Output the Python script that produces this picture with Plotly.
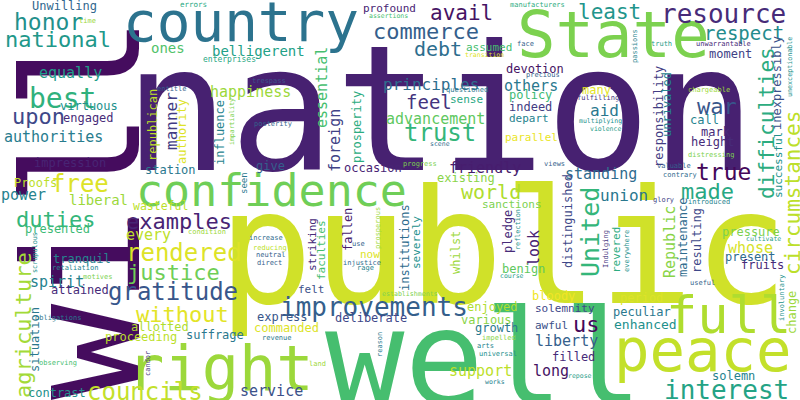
import plotly.graph_objects as go
from plotly.colors import sample_colorscale

# word cloud: word, position (px from top-left), font size, orientation, viridis tone
words = [
    "will", "nation", "public", "well", "country", "State", "confidence", "right",
    "peace", "full", "interest", "improvements",
    "honor", "national", "best", "upon", "authorities", "equally", "free", "power",
    "duties", "examples", "rendered", "justice", "gratitude", "without", "councils",
    "agriculture", "every", "spirit", "avail", "least", "resource", "respect",
    "commerce", "debt", "principles", "feel", "advancement", "trust", "others",
    "world", "friendly", "standing", "United", "made", "true", "war", "union", "aid",
    "difficulties", "circumstances", "belligerent", "happiness", "essential",
    "foreign", "us", "liberty", "support", "long", "look", "service", "Republic",
    "whose",
    "Unwilling", "ones", "virtuous", "engaged", "republican", "manner", "authority",
    "impression", "station", "Proofs", "liberal", "wasteful", "presented", "tranquil",
    "attained", "situation", "allotted", "proceeding", "suffrage", "contrast",
    "influence", "prosperity", "give", "occasion", "seen", "profound", "assumed",
    "devotion", "policy", "sense", "indeed", "depart", "parallel", "existing",
    "distinguished", "many", "moment", "responsibility", "unrivaled", "call", "mark",
    "height", "inexpressibly", "successful", "felt", "express", "commanded",
    "deliberate", "striking", "faculties", "fallen", "now", "sanctions",
    "institutions", "severely", "whilst", "pledge", "benign", "bloody", "enjoyed",
    "solemnity", "various", "growth", "awful", "filled", "maintenance", "resulting",
    "pressure", "present", "fruits", "revered", "period", "peculiar", "enhanced",
    "change", "solemn",
    "time", "errors", "entitle", "enterprises", "assertions", "trespass",
    "impartiality", "posterity", "manufacturers", "face", "transition", "precious",
    "questioned", "scene", "progress", "views", "fulfilling", "multiplying",
    "violence", "passions", "truth", "unwarrantable", "unexceptionable",
    "chargeable", "distressing", "valuable", "contrary", "glory", "introduced",
    "condition", "scrupulous", "retaliation", "motives", "obligations", "observing",
    "candor", "increase", "reducing", "neutral", "direct", "use", "prosperous",
    "injustice", "rage", "establishments", "revenue", "reason", "land", "reflection",
    "course", "impelled", "arts", "universal", "repose", "works", "useful",
    "cultivate", "everywhere", "Indulging", "involuntary",
]
word_x = [
    83, 440, 503, 484, 241, 613, 271, 220, 703, 728, 726, 374,
    48, 58, 62, 38, 53, 70, 80, 23, 55, 179, 184, 173, 173, 182, 145, 23, 148, 57,
    461, 609, 723, 744, 426, 438, 431, 429, 435, 440, 531, 491, 485, 601, 590, 707,
    723, 717, 624, 604, 767, 793, 258, 250, 322, 335, 586, 566, 480, 551, 534, 271,
    670, 750,
    64, 168, 89, 88, 153, 171, 182, 70, 170, 35, 98, 160, 57, 82, 80, 35, 160, 141,
    215, 57, 220, 357, 270, 373, 244, 389, 489, 535, 530, 466, 530, 529, 531, 466,
    568, 596, 730, 659, 667, 704, 716, 712, 777, 778, 311, 282, 286, 371, 312, 321,
    348, 370, 512, 405, 416, 456, 508, 523, 553, 492, 565, 486, 496, 551, 573, 683,
    697, 751, 750, 762, 616, 641, 642, 645, 792, 733,
    87, 193, 172, 229, 388, 269, 232, 273, 537, 525, 484, 543, 467, 440, 420, 554,
    598, 600, 605, 635, 661, 723, 790, 709, 711, 674, 680, 663, 709, 207, 35, 75,
    98, 58, 58, 148, 266, 270, 271, 269, 358, 378, 362, 365, 410, 277, 380, 317,
    518, 512, 499, 485, 498, 580, 495, 702, 763, 627, 606, 782,
]
word_y = [
    208, 109, 248, 358, 21, 35, 190, 368, 350, 315, 390, 307,
    22, 39, 98, 116, 137, 73, 184, 195, 219, 221, 253, 272, 292, 314, 392, 325, 235,
    282, 13, 12, 14, 33, 31, 49, 84, 102, 119, 133, 86, 192, 168, 174, 232, 191, 172,
    106, 195, 110, 123, 193, 51, 92, 88, 141, 324, 341, 371, 371, 248, 391, 242, 248,
    6, 48, 106, 118, 125, 121, 132, 163, 170, 183, 200, 206, 229, 259, 290, 340, 327,
    337, 335, 393, 133, 127, 166, 168, 183, 8, 47, 69, 95, 99, 107, 118, 137, 178,
    221, 90, 54, 117, 105, 120, 132, 142, 83, 165, 289, 317, 328, 318, 245, 250, 230,
    254, 204, 248, 243, 253, 232, 269, 296, 307, 308, 320, 328, 325, 357, 238, 241,
    232, 257, 265, 250, 298, 312, 324, 313, 376,
    21, 4, 89, 59, 16, 81, 122, 124, 5, 44, 55, 75, 90, 144, 164, 164, 98, 121, 129,
    46, 44, 44, 67, 90, 155, 166, 175, 200, 202, 232, 253, 268, 277, 318, 363, 364,
    238, 248, 255, 263, 244, 228, 263, 268, 294, 338, 345, 364, 230, 276, 338, 346,
    354, 376, 382, 283, 239, 251, 249, 298,
]
word_size = [
    160, 175, 158, 132, 56, 64, 45, 62, 59, 52, 26, 26,
    23, 22, 28, 22, 15, 15, 24, 15, 22, 22, 24, 22, 24, 22, 24, 22, 15, 15,
    21, 21, 26, 19, 22, 20, 16, 19, 15, 24, 15, 20, 15, 15, 25, 22, 23, 22, 16, 16,
    21, 21, 14, 15, 15, 15, 22, 15, 15, 15, 15, 15, 15, 15,
    12, 14, 12, 12, 12, 16, 12, 12, 12, 12, 14, 11.5, 12, 12, 12, 12, 12, 12, 12, 12,
    12, 12, 12, 12, 9, 11, 11, 12, 12, 11, 12, 11, 11, 12, 12, 12, 12, 12, 12, 12,
    12, 12, 12, 11, 11, 12, 12, 12, 11, 11, 12, 11, 11, 12, 11, 12, 12, 12, 12, 12,
    11, 12, 12, 11, 12, 12, 12, 12, 12, 12, 11, 12, 12, 13, 12, 12,
    7, 7.5, 7, 8, 6.5, 7, 6.5, 7, 7, 7, 6.5, 7, 7, 6.5, 7, 7, 7, 6.5, 6.5, 7, 7, 7,
    6.7, 7, 7, 7, 7, 7, 7, 7, 6.8, 7, 7, 7, 7, 7, 7, 7, 7, 7, 7, 7, 7, 7, 6.6, 7,
    7, 7, 6.8, 6.5, 7, 7, 7, 6.5, 6.5, 7, 6.5, 7, 7, 7,
]
vertical = [
    "will", "agriculture", "United", "difficulties", "circumstances", "essential",
    "foreign", "look", "Republic", "republican", "manner", "authority", "situation",
    "influence", "prosperity", "seen", "distinguished", "responsibility", "unrivaled",
    "inexpressibly", "successful", "striking", "faculties", "fallen", "institutions",
    "severely", "whilst", "pledge", "maintenance", "resulting", "revered", "change",
    "impartiality", "passions", "unexceptionable", "scrupulous", "candor",
    "prosperous", "reason", "reflection", "everywhere", "Indulging", "involuntary",
]
word_tone = [
    0.03, 0.09, 0.93, 0.70, 0.38, 0.80, 0.78, 0.85, 0.91, 0.88, 0.58, 0.30,
    0.50, 0.53, 0.64, 0.22, 0.42, 0.55, 0.95, 0.45, 0.66, 0.10, 0.95, 0.78, 0.27,
    0.96, 0.91, 0.86, 0.90, 0.45, 0.05, 0.52, 0.12, 0.48, 0.30, 0.36, 0.36, 0.15,
    0.75, 0.66, 0.40, 0.88, 0.08, 0.35, 0.66, 0.60, 0.02, 0.27, 0.40, 0.40, 0.62,
    0.90, 0.57, 0.85, 0.70, 0.20, 0.02, 0.30, 0.90, 0.05, 0.10, 0.25, 0.82, 0.94,
    0.33, 0.72, 0.50, 0.12, 0.90, 0.18, 0.95, 0.10, 0.40, 0.90, 0.85, 0.90, 0.68,
    0.45, 0.12, 0.40, 0.88, 0.90, 0.40, 0.50, 0.45, 0.62, 0.30, 0.10, 0.40, 0.10,
    0.70, 0.05, 0.68, 0.60, 0.18, 0.45, 0.97, 0.82, 0.22, 0.96, 0.20, 0.18, 0.45,
    0.45, 0.12, 0.12, 0.25, 0.50, 0.25, 0.27, 0.95, 0.22, 0.12, 0.70, 0.08, 0.95,
    0.80, 0.35, 0.50, 0.85, 0.12, 0.75, 0.98, 0.88, 0.22, 0.82, 0.40, 0.25, 0.12,
    0.35, 0.22, 0.80, 0.35, 0.12, 0.62, 0.95, 0.40, 0.50, 0.85, 0.45,
    0.85, 0.60, 0.30, 0.60, 0.70, 0.25, 0.80, 0.32, 0.62, 0.30, 0.95, 0.30, 0.40,
    0.35, 0.80, 0.30, 0.15, 0.50, 0.55, 0.45, 0.55, 0.12, 0.50, 0.85, 0.80, 0.30,
    0.35, 0.20, 0.45, 0.85, 0.50, 0.45, 0.80, 0.40, 0.70, 0.15, 0.35, 0.90, 0.30,
    0.30, 0.30, 0.85, 0.35, 0.45, 0.80, 0.40, 0.40, 0.85, 0.50, 0.55, 0.82, 0.45,
    0.50, 0.55, 0.45, 0.30, 0.55, 0.50, 0.15, 0.50,
]

colors = sample_colorscale("Viridis", word_tone)

fig = go.Figure()
for w, x, y, s, c in zip(words, word_x, word_y, word_size, colors):
    fig.add_annotation(
        x=x,
        y=y,
        text=w,
        showarrow=False,
        xanchor="center",
        yanchor="middle",
        textangle=-90 if w in vertical else 0,
        font=dict(family="DejaVu Sans Mono", size=s, color=c),
    )

fig.update_layout(
    width=800,
    height=400,
    margin=dict(l=0, r=0, t=0, b=0),
    paper_bgcolor="white",
    plot_bgcolor="white",
    showlegend=False,
    xaxis=dict(range=[0, 800], visible=False, fixedrange=True),
    yaxis=dict(range=[400, 0], visible=False, fixedrange=True),
)

# body has a default 8px margin, drop it so the cloud fills the window
fig.write_html(
    "out.html",
    config={"displayModeBar": False},
    post_script="document.body.style.margin = '0';",
)
